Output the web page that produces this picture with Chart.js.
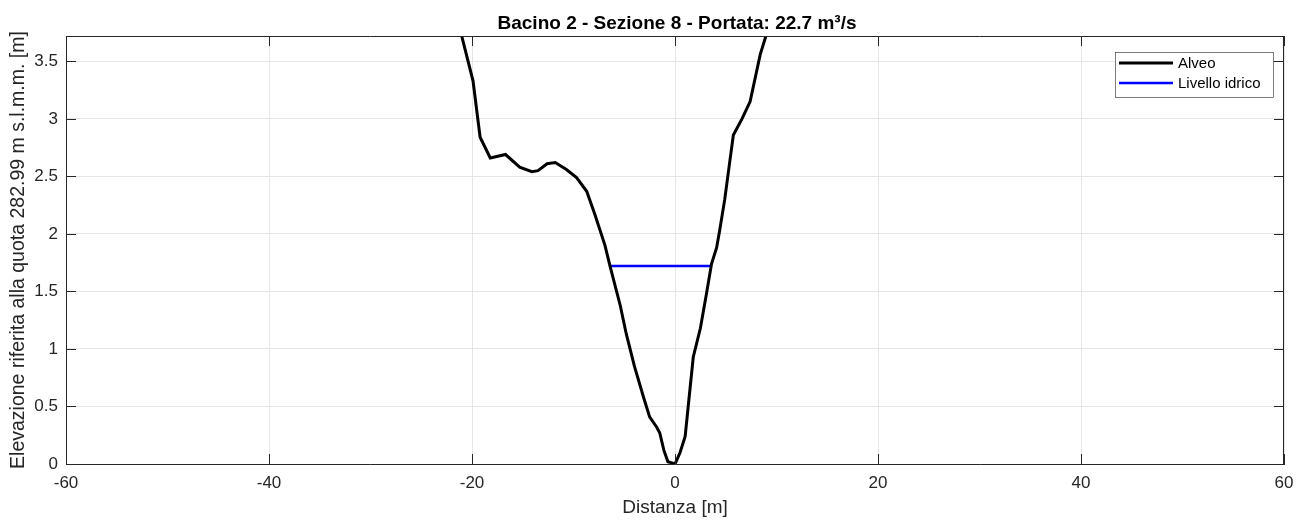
<!DOCTYPE html>
<html>
<head>
<meta charset="utf-8">
<script src="https://cdn.jsdelivr.net/npm/chart.js@4/dist/chart.umd.min.js"></script>
<style>
  html, body { margin: 0; padding: 0; background: #fff; }
  #wrap { width: 1299px; height: 521px; }
</style>
</head>
<body>
<div id="wrap"><canvas id="sectionChart" width="1299" height="521"></canvas></div>
<script>
// Sezione trasversale
const alveoX = [-21.3, -19.9, -19.2, -18.2, -16.7, -15.3, -14.1, -13.5, -12.6, -11.8, -10.7, -9.7, -8.7, -7.9,
    -6.9, -6.4, -5.4, -4.8, -4.0, -3.1, -2.5, -1.8, -1.5, -1.1, -0.7, 0.0, 0.5, 1.0, 1.3, 1.8, 2.5, 3.1,
    3.6, 4.1, 4.4, 4.9, 5.4, 5.75, 6.6, 7.4, 8.4, 9.2];
const alveoY = [3.82, 3.33, 2.84, 2.66, 2.69, 2.58, 2.54, 2.55, 2.61, 2.62, 2.56, 2.49, 2.37, 2.17,
    1.90, 1.72, 1.38, 1.13, 0.85, 0.58, 0.41, 0.32, 0.27, 0.12, 0.02, 0.0, 0.10, 0.24, 0.50, 0.93, 1.18, 1.48,
    1.74, 1.88, 2.03, 2.30, 2.63, 2.86, 3.00, 3.15, 3.56, 3.79];
const livelloX = [-6.4, 3.5];
const livelloY = [1.72, 1.72];
const xTicks = [-60, -40, -20, 0, 20, 40, 60];
const yTicks = [0, 0.5, 1, 1.5, 2, 2.5, 3, 3.5];

const titleText = 'Bacino 2 - Sezione 8 - Portata: 22.7 m\u00B3/s';
const axisColor = '#262626';
const fontFamily = '"Liberation Sans", Arial, Helvetica, sans-serif';

function toPoints(xs, ys) {
    return xs.map((x, i) => ({ x: x, y: ys[i] }));
}

// frame, inward ticks, title and legend drawn over the plot like MATLAB
const matlabLook = {
    id: 'matlabLook',
    afterDraw(chart) {
        const ctx = chart.ctx;
        const a = chart.chartArea;
        const xs = chart.scales.x;
        const ys = chart.scales.y;
        ctx.save();
        ctx.strokeStyle = axisColor;
        ctx.lineWidth = 1;
        ctx.beginPath();
        ctx.moveTo(a.left, a.top + 0.5);
        ctx.lineTo(a.right, a.top + 0.5);
        ctx.moveTo(a.right - 0.5, a.top);
        ctx.lineTo(a.right - 0.5, a.bottom);
        // tick marks pointing inward
        const tl = 10;
        xTicks.forEach(v => {
            const px = Math.round(xs.getPixelForValue(v)) + 0.5;
            ctx.moveTo(px, a.bottom);
            ctx.lineTo(px, a.bottom - tl);
            ctx.moveTo(px, a.top);
            ctx.lineTo(px, a.top + tl);
        });
        yTicks.forEach(v => {
            const py = Math.round(ys.getPixelForValue(v)) + 0.5;
            ctx.moveTo(a.left, py);
            ctx.lineTo(a.left + tl, py);
            ctx.moveTo(a.right, py);
            ctx.lineTo(a.right - tl, py);
        });
        ctx.stroke();

        // title
        ctx.fillStyle = '#000';
        ctx.font = 'bold 19px ' + fontFamily;
        ctx.textAlign = 'center';
        ctx.textBaseline = 'alphabetic';
        ctx.fillText(titleText, (a.left + a.right) / 2 + 2, 29);

        // legend
        const lx = 1115, ly = 52, lw = 158, lh = 45;
        ctx.fillStyle = '#fff';
        ctx.fillRect(lx, ly, lw, lh);
        ctx.strokeStyle = '#262626';
        ctx.lineWidth = 0.6;
        ctx.strokeRect(lx + 0.5, ly + 0.5, lw, lh);
        ctx.font = '15px ' + fontFamily;
        ctx.textAlign = 'left';
        ctx.textBaseline = 'middle';
        chart.data.datasets.forEach((ds, i) => {
            const y = ly + 11 + i * 20;
            ctx.strokeStyle = ds.borderColor;
            ctx.lineWidth = ds.borderWidth;
            ctx.beginPath();
            ctx.moveTo(lx + 4, y);
            ctx.lineTo(lx + 58, y);
            ctx.stroke();
            ctx.fillStyle = '#000';
            ctx.fillText(ds.label, lx + 63, y + 1);
        });
        ctx.restore();
    }
};

document.addEventListener('DOMContentLoaded', function() {
    const ctx = document.getElementById('sectionChart').getContext('2d');
    new Chart(ctx, {
        type: 'scatter',
        data: {
            datasets: [{
                label: 'Alveo',
                data: toPoints(alveoX, alveoY),
                showLine: true,
                borderColor: '#000000',
                borderWidth: 3,
                pointRadius: 0,
                tension: 0,
                clip: 0
            }, {
                label: 'Livello idrico',
                data: toPoints(livelloX, livelloY),
                showLine: true,
                borderColor: '#0000ff',
                borderWidth: 2.5,
                pointRadius: 0,
                tension: 0,
                clip: 0
            }]
        },
        options: {
            responsive: false,
            animation: false,
            events: [],
            layout: { padding: { top: 36, right: 15, left: 0, bottom: 0 } },
            plugins: {
                legend: { display: false },
                title: { display: false },
                tooltip: { enabled: false }
            },
            scales: {
                x: {
                    type: 'linear',
                    min: -60,
                    max: 60,
                    afterBuildTicks: s => { s.ticks = xTicks.map(v => ({ value: v })); },
                    afterFit: s => { s.height = 57; s.paddingLeft = 0; s.paddingRight = 0; },
                    grid: { color: '#e6e6e6', drawTicks: false },
                    border: { color: axisColor, width: 1 },
                    ticks: {
                        padding: 9,
                        color: axisColor,
                        font: { family: fontFamily, size: 17 },
                        maxRotation: 0
                    },
                    title: {
                        display: true,
                        text: 'Distanza [m]',
                        color: axisColor,
                        font: { family: fontFamily, size: 19 },
                        padding: { top: 0, bottom: 2 }
                    }
                },
                y: {
                    type: 'linear',
                    min: 0,
                    max: 3.72,
                    afterBuildTicks: s => { s.ticks = yTicks.map(v => ({ value: v })); },
                    afterFit: s => { s.width = 66; s.paddingTop = 0; s.paddingBottom = 0; },
                    grid: { color: '#e6e6e6', drawTicks: false },
                    border: { color: axisColor, width: 1 },
                    ticks: {
                        padding: 8,
                        color: axisColor,
                        font: { family: fontFamily, size: 17 },
                        callback: v => String(v)
                    },
                    title: {
                        display: true,
                        text: 'Elevazione riferita alla quota 282.99 m s.l.m.m. [m]',
                        color: axisColor,
                        font: { family: fontFamily, size: 19.5 },
                        padding: { top: 7, bottom: 0 }
                    }
                }
            }
        },
        plugins: [matlabLook]
    });
});
</script>
</body>
</html>
